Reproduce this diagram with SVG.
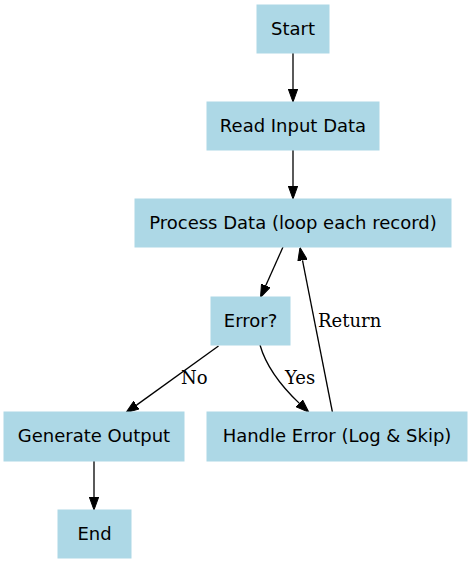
<svg xmlns="http://www.w3.org/2000/svg" width="472" height="564" viewBox="0 0 472 564">
<style>
.node rect{fill:#add8e6;stroke:#add8e6;stroke-width:1}
.node text{font-family:"DejaVu Sans",sans-serif;font-size:18px;fill:#000;text-anchor:middle}
.edge{fill:none;stroke:#000;stroke-width:1.3}
.lbl{font-family:"DejaVu Serif",serif;font-size:18px;fill:#000}
</style>
<defs>
<marker id="ah" viewBox="0 0 13 10" refX="0" refY="5" markerWidth="13" markerHeight="10" markerUnits="userSpaceOnUse" orient="auto">
<polygon points="0,0.3 13,5 0,9.7" fill="#000" stroke="#000" stroke-width="1"/>
</marker>
</defs>
<rect width="472" height="564" fill="#fff"/>
<g id="edges">
<path class="edge" d="M293,53 L293,89" marker-end="url(#ah)"/>
<path class="edge" d="M293,150 L293,186" marker-end="url(#ah)"/>
<path class="edge" d="M283,247 L265.8,285.6" marker-end="url(#ah)"/>
<path class="edge" d="M218.5,346 L136.5,405.1" marker-end="url(#ah)"/>
<text class="lbl" x="181" y="384">No</text>
<path class="edge" d="M260,345 C266,366 280,385 299.4,403.4" marker-end="url(#ah)"/>
<text class="lbl" x="285" y="384">Yes</text>
<path class="edge" d="M332.5,412.5 L302.5,260.3" marker-end="url(#ah)"/>
<text class="lbl" x="318" y="327">Return</text>
<path class="edge" d="M94,461 L94,497" marker-end="url(#ah)"/>
</g>
<g id="start" class="node"><rect x="257" y="5" width="72" height="48"/><text x="293" y="35">Start</text></g>
<g id="read" class="node"><rect x="207" y="102" width="172" height="48"/><text x="293" y="132">Read Input Data</text></g>
<g id="process" class="node"><rect x="135" y="199" width="316" height="48"/><text x="293" y="229">Process Data (loop each record)</text></g>
<g id="error" class="node"><rect x="211" y="297" width="79" height="48"/><text x="250.5" y="327">Error?</text></g>
<g id="generate" class="node"><rect x="4" y="412" width="180" height="49"/><text x="94" y="442">Generate Output</text></g>
<g id="handle" class="node"><rect x="207" y="412" width="260" height="49"/><text x="337" y="442">Handle Error (Log &amp; Skip)</text></g>
<g id="end" class="node"><rect x="58" y="510" width="73" height="48"/><text x="94.5" y="540">End</text></g>
</svg>
